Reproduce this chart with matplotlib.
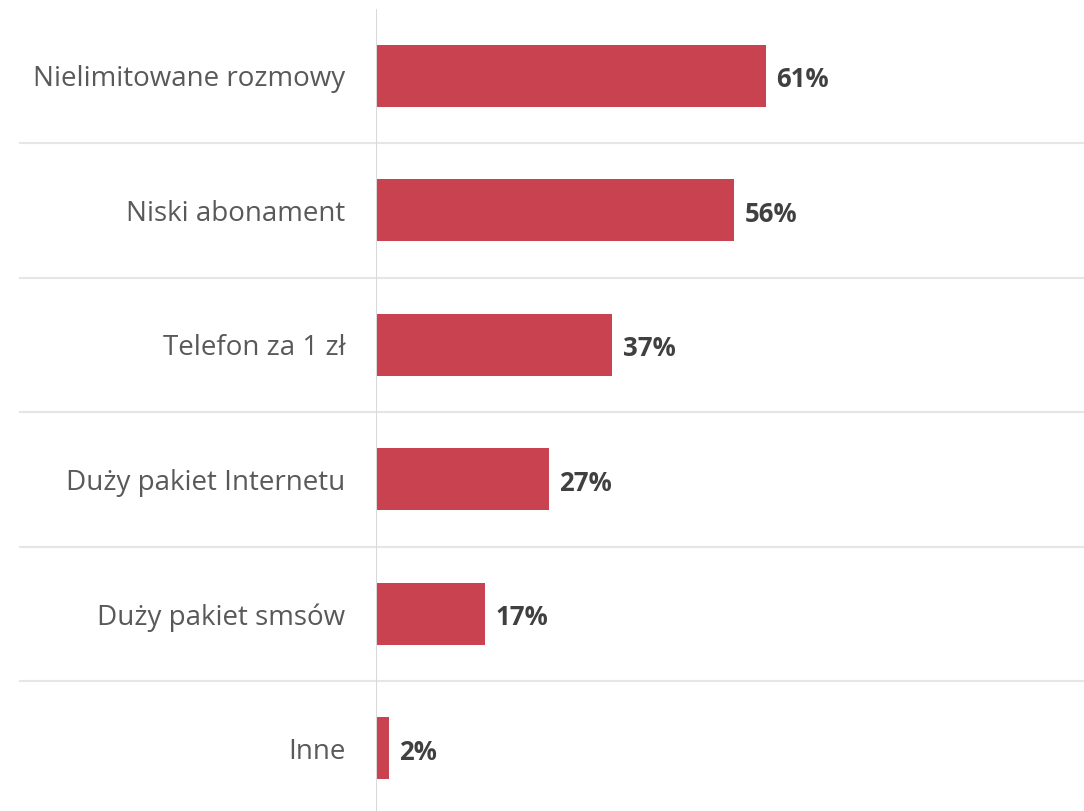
import matplotlib
matplotlib.use("Agg")
import matplotlib.pyplot as plt

# Survey answers, top to bottom
categories = [
    "Nielimitowane rozmowy",
    "Niski abonament",
    "Telefon za 1 zł",
    "Duży pakiet Internetu",
    "Duży pakiet smsów",
    "Inne",
]
shares = [61, 56, 37, 27, 17, 2]

BAR_COLOR = "#C8424F"
GRID_COLOR = "#E6E6E6"

fig = plt.figure(figsize=(10.84, 8.11), dpi=100)
W, H = 1084, 811
left_px, top_px, row_px = 376, 8.5, 134.5
n = len(categories)
ax = fig.add_axes([left_px / W, (H - top_px - n * row_px) / H,
                   (W - left_px) / W, n * row_px / H])

y = list(range(n))
ax.barh(y, shares, height=0.46, color=BAR_COLOR)

ax.set_ylim(n - 0.5, -0.5)
ax.set_xlim(0, (W - left_px) / 6.39)

# row separators run out into the label area
sep_start = (20 - left_px) / (W - left_px)
for i in range(1, n):
    ax.axhline(i - 0.5, xmin=sep_start, xmax=1, color=GRID_COLOR,
               lw=1.5, clip_on=False, zorder=0)

ax.axvline(0, ymin=0, ymax=1, color="#D9D9D9", lw=1.5, zorder=3)

for yi, v in zip(y, shares):
    ax.annotate(f"{v}%", (v, yi), xytext=(7.5, -3), textcoords="offset points",
                ha="left", va="center", fontsize=18.5, fontweight="bold",
                color="#404040", family="Open Sans")

ax.set_yticks(y)
ax.set_yticklabels(categories, fontsize=20, color="#595959", family="Open Sans")
ax.tick_params(axis="y", length=0, pad=22)
ax.set_xticks([])
for s in ax.spines.values():
    s.set_visible(False)

fig.savefig("out.png", dpi=100)
